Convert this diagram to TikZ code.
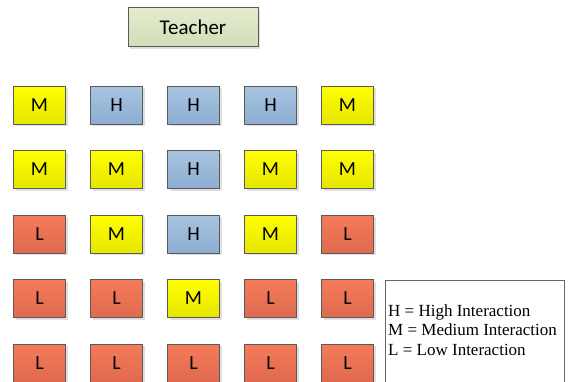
\documentclass[tikz,border=0pt]{standalone}
\usepackage{fontspec}
\setmainfont{Liberation Serif}
\newfontfamily\boxfont{Carlito}
\usetikzlibrary{shadows}
\definecolor{ytop}{HTML}{FFFF00}
\definecolor{ybot}{HTML}{E6E600}
\definecolor{btop}{HTML}{A8C4E0}
\definecolor{bbot}{HTML}{8CAED2}
\definecolor{rtop}{HTML}{F57B5A}
\definecolor{rbot}{HTML}{DF6A4F}
\definecolor{ttop}{HTML}{E4ECCE}
\definecolor{tbot}{HTML}{D3DDB8}
\definecolor{edge}{HTML}{5A5A5A}
\tikzset{
  seat/.style={draw=edge, line width=0.9pt, minimum width=52pt, minimum height=38pt, inner sep=0pt,
    font=\boxfont\fontsize{20}{20}\selectfont, text=black,
    drop shadow={shadow xshift=2pt, shadow yshift=-2pt, fill=black!12, opacity=1}},
  Hs/.style={seat, top color=btop, bottom color=bbot},
  Ms/.style={seat, top color=ytop, bottom color=ybot},
  Ls/.style={seat, top color=rtop, bottom color=rbot},
  legendline/.style={anchor=base west, inner sep=0pt, font=\fontsize{17}{19}\selectfont}
}
\begin{document}
\begin{tikzpicture}[x=1pt, y=-1pt]
\useasboundingbox (0,0) rectangle (568,381);
\clip (0,0) rectangle (568,381);
\fill[white] (0,0) rectangle (568,381);
\node[seat, top color=ttop, bottom color=tbot, minimum width=130pt, minimum height=39pt, font=\boxfont\fontsize{21}{21}\selectfont] (teacher) at (193,27) {Teacher};
\foreach \row/\y in {{M,H,H,H,M}/105, {M,M,H,M,M}/169.5, {L,M,H,M,L}/234, {L,L,M,L,L}/298.5, {L,L,L,L,L}/363}{
  \foreach \l [count=\c] in \row {
    \pgfmathsetmacro{\xx}{39.5+77*(\c-1)}
    \node[\l s] (s-\y-\c) at (\xx,\y) {\l};
  }
}
\node[draw=black!60, line width=0.7pt, fill=white, minimum width=179pt, minimum height=130pt, anchor=north west, inner sep=0pt] (legend) at (385,279.5) {};
\node[legendline] (l1) at (388,316.5) {H = High Interaction};
\node[legendline] (l2) at (388,335.8) {M = Medium Interaction};
\node[legendline] (l3) at (388,355.5) {L = Low Interaction};
\end{tikzpicture}
\end{document}
